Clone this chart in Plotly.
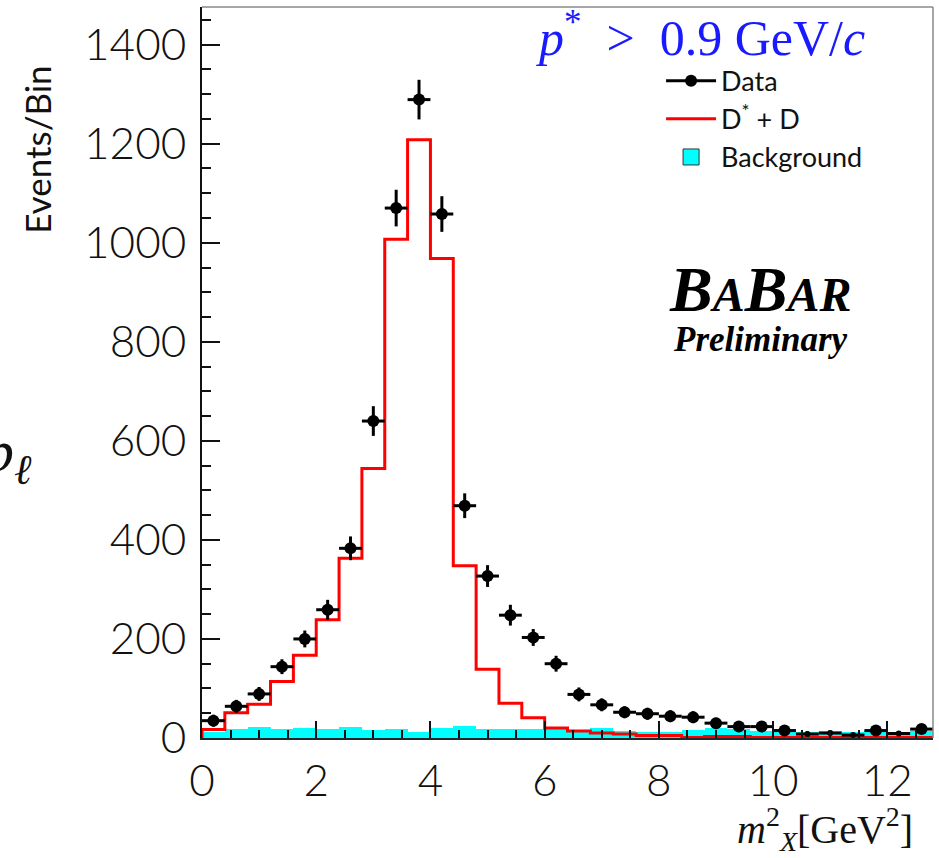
import plotly.graph_objects as go

# Histogram binning in m_X^2 [GeV^2]
BIN_WIDTH = 0.4
N_BINS = 32
bin_lo = [round(i * BIN_WIDTH, 2) for i in range(N_BINS)]
bin_centers = [round(lo + BIN_WIDTH / 2, 2) for lo in bin_lo]

# Observed events per bin and their uncertainties
data_counts = [35, 64, 89, 144, 200, 259, 383, 640, 1070, 1289, 1058, 469,
               327, 248, 203, 150, 88, 67, 52, 49, 44, 42, 30, 23,
               23, 15, 8, 10, 6, 15, 9, 18]
data_errors = [12, 13, 14, 15, 17, 20, 24, 30, 37, 40, 36, 25,
               22, 21, 17, 16, 14, 13, 12, 12, 12, 12, 11, 11,
               11, 10, 5, 5, 4, 10, 5, 10]

# D* + D signal template
signal_counts = [17, 51, 68, 114, 167, 239, 363, 544, 1007, 1208, 968, 348,
                 139, 70, 41, 20, 14, 10, 8, 5, 5, 1, 3, 3,
                 1, 1, 1, 1, 1, 1, 1, 1]

# Background template
background_counts = [13, 18, 22, 19, 21, 19, 23, 17, 19, 13, 20, 25,
                     19, 19, 18, 18, 17, 21, 15, 13, 13, 17, 21, 18,
                     15, 18, 13, 14, 12, 17, 13, 15]

x_ticks = [0, 2, 4, 6, 8, 10, 12]
y_ticks = [0, 200, 400, 600, 800, 1000, 1200, 1400]

# bins whose data point is drawn without a marker dot
NO_DOT_BINS = {26, 27, 28, 30}

TICK_FONT = dict(family="Lato", size=44, color="#111111", weight=300)
SERIF = "Liberation Serif"

fig = go.Figure()

# background: filled histogram
fig.add_trace(go.Bar(
    x=bin_centers, y=background_counts, width=BIN_WIDTH,
    marker=dict(color="#00ffff", line=dict(width=0)),
    name="Background", showlegend=False,
))

# signal: step outline starting and ending on the baseline
sig_x = [bin_lo[0]] + bin_lo + [bin_lo[-1] + BIN_WIDTH, bin_lo[-1] + BIN_WIDTH]
sig_y = [0] + signal_counts + [signal_counts[-1], 0]
fig.add_trace(go.Scatter(
    x=sig_x, y=sig_y, mode="lines", line=dict(color="#ff0000", width=3, shape="hv"),
    name="D* + D", showlegend=False,
))

# data points with error bars
dot_idx = [i for i in range(N_BINS) if i not in NO_DOT_BINS]
bare_idx = [i for i in range(N_BINS) if i in NO_DOT_BINS]
for idx, size in ((dot_idx, 12), (bare_idx, 0)):
    fig.add_trace(go.Scatter(
        x=[bin_centers[i] for i in idx], y=[data_counts[i] for i in idx],
        mode="markers", marker=dict(color="black", size=size),
        error_y=dict(type="data", array=[data_errors[i] for i in idx],
                     color="black", thickness=3, width=0),
        error_x=dict(type="constant", value=BIN_WIDTH / 2,
                     color="black", thickness=3, width=0),
        showlegend=False, name="Data",
    ))

# legend entries
fig.add_trace(go.Scatter(x=[None], y=[None], mode="lines+markers", name="Data",
                         line=dict(color="black", width=3), marker=dict(color="black", size=12)))
fig.add_trace(go.Scatter(x=[None], y=[None], mode="lines", name="D<sup>*</sup> + D",
                         line=dict(color="#ff0000", width=3)))
fig.add_trace(go.Scatter(x=[None], y=[None], mode="markers", name="Background",
                         marker=dict(symbol="square", size=24, color="#00ffff",
                                     line=dict(color="#333333", width=1))))

fig.update_layout(
    width=939, height=858,
    margin=dict(l=202, r=6, t=7, b=120),
    paper_bgcolor="white", plot_bgcolor="white",
    bargap=0, barmode="overlay",
    showlegend=True,
    legend=dict(x=0.628, y=0.932, xanchor="left", yanchor="top",
                bgcolor="rgba(0,0,0,0)", font=dict(family="Lato", size=27, color="#111111"),
                itemwidth=50, itemsizing="trace", tracegroupgap=0),
    font=dict(family="Lato"),
)

fig.update_xaxes(
    range=[0, 12.8], tickvals=x_ticks, ticks="inside", ticklen=17, tickwidth=1.5,
    tickcolor="#111111", tickfont=TICK_FONT, ticklabelstandoff=3,
    showline=True, linecolor="#1a2a2a", linewidth=2, showgrid=False, zeroline=False,
    minor=dict(dtick=0.5, ticks="inside", ticklen=8, tickwidth=1.5, tickcolor="#111111", showgrid=False),
)
fig.update_yaxes(
    range=[0, 1476], tickvals=y_ticks, ticks="inside", ticklen=18, tickwidth=1.5,
    tickcolor="#111111", tickfont=TICK_FONT, ticklabelstandoff=5,
    showline=True, linecolor="#111111", linewidth=2, showgrid=False, zeroline=False,
    minor=dict(dtick=50, ticks="inside", ticklen=9, tickwidth=1.5, tickcolor="#111111", showgrid=False),
)

# thin frame along top and right
fig.add_shape(type="line", xref="paper", yref="paper", x0=0, x1=1, y0=1, y1=1,
              line=dict(color="#888888", width=1.5))
fig.add_shape(type="line", xref="paper", yref="paper", x0=1, x1=1, y0=0, y1=1,
              line=dict(color="#888888", width=1.5))

# texts
fig.add_annotation(xref="paper", yref="paper", x=-0.225, y=0.804, xanchor="center", yanchor="middle",
                   text="Events/Bin", textangle=-90, showarrow=False,
                   font=dict(family="Lato", size=35, color="#111111"))
fig.add_annotation(xref="paper", yref="paper", x=0.91, y=1.008, xanchor="right", yanchor="top",
                   text="<i>p</i><sup>*</sup> &nbsp;> &nbsp;0.9 GeV/<i>c</i>", showarrow=False,
                   font=dict(family=SERIF, size=50, color="#1a1aff"))
fig.add_annotation(xref="paper", yref="paper", x=0.764, y=0.613, xanchor="center", yanchor="middle",
                   text="<b><i>B<span style='font-size:48px'>A</span>B<span style='font-size:48px'>AR</span></i></b>",
                   showarrow=False, font=dict(family=SERIF, size=64, color="black"))
fig.add_annotation(xref="paper", yref="paper", x=0.764, y=0.545, xanchor="center", yanchor="middle",
                   text="<b><i>Preliminary</i></b>", showarrow=False,
                   font=dict(family=SERIF, size=35, color="black"))
fig.add_annotation(xref="paper", yref="paper", x=0.975, y=-0.124, xanchor="right", yanchor="middle",
                   text="<i>m</i><sup>2</sup><sub><i>X</i></sub>[GeV<sup>2</sup>]", showarrow=False,
                   font=dict(family=SERIF, size=40, color="#111111"))
fig.add_annotation(xref="paper", yref="paper", x=-0.23, y=0.386, xanchor="right", yanchor="middle",
                   text="<i>p</i><sub><i>ℓ</i></sub>", showarrow=False,
                   font=dict(family=SERIF, size=60, color="#111111"))

fig.write_html("out.html")
